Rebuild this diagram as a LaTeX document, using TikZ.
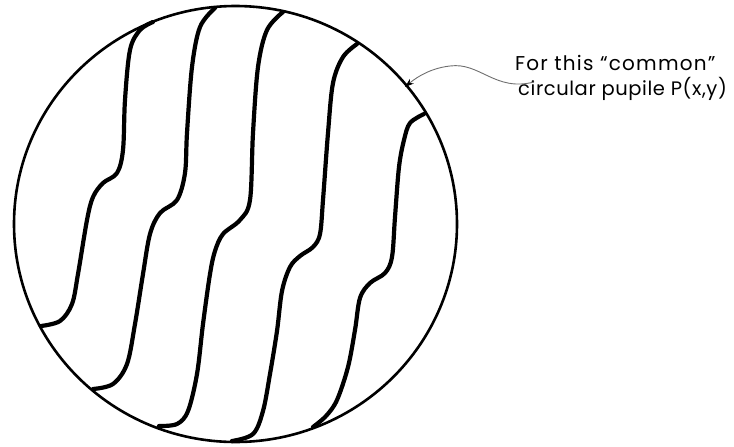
\documentclass[tikz,border=0pt]{standalone}
\usepackage{fontspec}
\setmainfont{Poppins}
\usetikzlibrary{arrows.meta}
\tikzset{
  pupil/.style={line width=2.6pt, black},
  wave/.style={line width=4.2pt, black, line cap=round, line join=round},
  pointer/.style={line width=0.9pt, draw={rgb,255:red,110;green,110;blue,110}, -{Stealth[length=9pt,width=6pt,black]}},
  label/.style={anchor=base west, inner sep=0pt, font=\addfontfeatures{LetterSpace=6}\fontsize{20}{23}\selectfont},
  labeltwo/.style={anchor=base west, inner sep=0pt, font=\addfontfeatures{LetterSpace=3}\fontsize{19.5}{23}\selectfont}
}
\begin{document}
\begin{tikzpicture}[x=1pt,y=-1pt]
\useasboundingbox (0,0) rectangle (734,447);
\draw[pupil] (235.5,224) ellipse [x radius=221.5, y radius=218];
% wavy lines
\draw[wave] plot[smooth, tension=0.55] coordinates {(153,22) (140,30) (130,50) (125,100) (123,150) (117,173) (103,183) (93,197) (87,220) (78,274) (72,304) (60,321) (41,326)};
\draw[wave] plot[smooth, tension=0.55] coordinates {(215,8) (200,27) (192,67) (187,133) (185,173) (177,200) (160,213) (150,234) (143,274) (135,324) (127,364) (113,384) (93,389)};
\draw[wave] plot[smooth, tension=0.55] coordinates {(283,12) (267,30) (258,67) (253,133) (250,200) (240,220) (223,234) (215,251) (210,274) (203,324) (197,374) (188,411) (177,424) (159,426)};
\draw[wave] plot[smooth, tension=0.55] coordinates {(357,44) (343,57) (333,83) (328,133) (323,200) (320,234) (313,247) (300,256) (290,267) (282,291) (277,331) (270,374) (263,411) (253,434) (232,441)};
\draw[wave] plot[smooth, tension=0.55] coordinates {(424,114) (410,123) (404,140) (399,167) (395,217) (392,257) (385,273) (370,283) (360,298) (355,330) (348,367) (337,400) (326,416) (313,427)};
% label
\node[label] (t1) at (515,70) {For this “common”};
\node[labeltwo] (t2) at (518,95) {circular pupile P(x,y)};
\coordinate (s) at (534,82);
\coordinate (tip) at (405,87);
\draw[pointer] (s) .. controls (495,92) and (480,62) .. (450,66) .. controls (432,68) and (418,76) .. (tip);
\end{tikzpicture}
\end{document}
